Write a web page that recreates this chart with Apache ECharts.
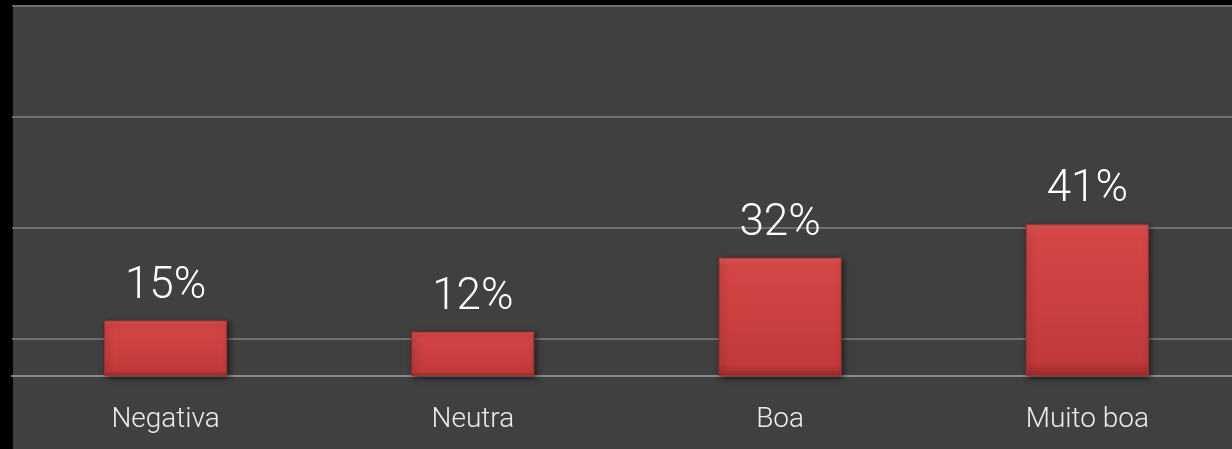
<!DOCTYPE html>
<html>
<head>
<meta charset="utf-8">
<script src="https://cdn.jsdelivr.net/npm/echarts@6/dist/echarts.min.js"></script>
<style>
html,body{margin:0;padding:0;background:#000;overflow:hidden;width:1232px;height:449px;}
#c{width:1241px;height:449px;}
</style>
</head>
<body>
<div id="c"></div>
<script>
const categories = ['Negativa', 'Neutra', 'Boa', 'Muito boa'];
const values = [15, 12, 32, 41];
const gridValues = [10, 40, 70, 100];

const chart = echarts.init(document.getElementById('c'), null, {renderer: 'canvas'});
chart.setOption({
  backgroundColor: '#000000',
  animation: false,
  graphic: [{
    type: 'rect', left: 13, top: 5, z: -10, silent: true,
    shape: {width: 1228, height: 444},
    style: {fill: '#404040'}
  }],
  grid: {
    left: 12, right: 0, top: 6, bottom: 73,
    containLabel: false,
    show: false
  },
  xAxis: {
    type: 'category',
    data: categories,
    axisLine: {show: true, onZero: false, lineStyle: {color: '#8a8a8a', width: 2}},
    axisTick: {show: false},
    axisLabel: {color: '#ececec', fontSize: 28, fontWeight: 300, fontFamily: 'Roboto, sans-serif', margin: 30},
    splitLine: {show: false}
  },
  yAxis: {
    type: 'value',
    min: 0, max: 100,
    axisLine: {show: false},
    axisTick: {show: false},
    axisLabel: {show: false},
    splitLine: {show: false}
  },
  series: [{
    type: 'bar',
    data: values,
    barWidth: '40%',
    itemStyle: {
      color: new echarts.graphic.LinearGradient(0, 0, 0, 1, [
        {offset: 0, color: '#e25a5a'},
        {offset: 0.07, color: '#d64646'},
        {offset: 0.9, color: '#c23a3a'},
        {offset: 1, color: '#9e2c2c'}
      ]),
      borderColor: '#a83030',
      borderWidth: 1,
      shadowColor: 'rgba(0,0,0,0.55)',
      shadowBlur: 6,
      shadowOffsetX: 2,
      shadowOffsetY: 2
    },
    label: {
      show: true,
      position: 'top',
      distance: 12,
      color: '#ffffff',
      fontSize: 44,
      fontWeight: 300,
      fontFamily: 'Roboto, sans-serif',
      formatter: p => p.value + '%'
    },
    markLine: {
      silent: true,
      symbol: 'none',
      label: {show: false},
      lineStyle: {color: '#808080', width: 1.5, type: 'solid'},
      data: gridValues.map(v => ({yAxis: v})),
      z: 1
    },
    z: 3
  }]
});
</script>
</body>
</html>
